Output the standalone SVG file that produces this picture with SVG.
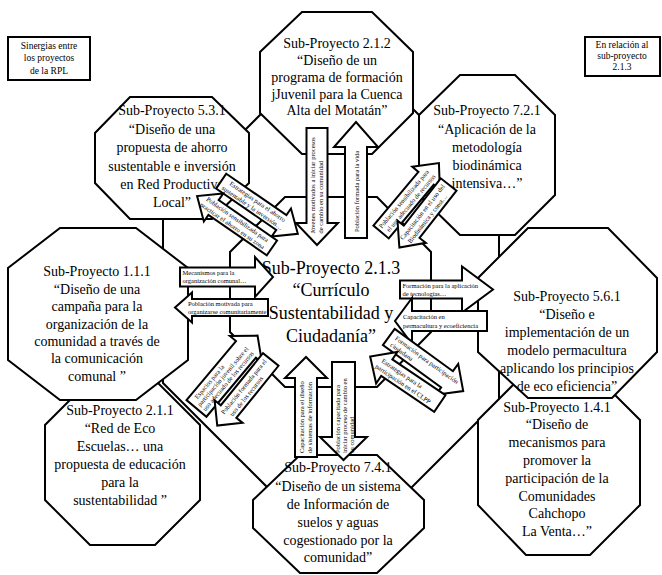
<svg xmlns="http://www.w3.org/2000/svg" width="662" height="575" viewBox="0 0 662 575">
<style>
.oct{fill:#fff;stroke:#000;stroke-width:2}
.box{fill:#fff;stroke:#000;stroke-width:2}
.arr{fill:#fff;stroke:#000;stroke-width:2;stroke-linejoin:miter}
.ring{fill:none;stroke:#000;stroke-width:2}
text{font-family:"Liberation Serif","Times New Roman",serif;fill:#000}
.t{font-size:14px;text-anchor:middle}
.c{font-size:18px;text-anchor:middle}
.n{font-size:9.5px;text-anchor:middle}
.s{font-size:6.5px}
</style>
<rect width="662" height="575" fill="#fff"/>
<g id="note-left"><rect class="box" x="8" y="37" width="82" height="43"/>
<text class="n" x="49" y="49">Sinergias entre</text><text class="n" x="49" y="61">los proyectos</text><text class="n" x="49" y="74">de la RPL</text></g>
<g id="note-right"><rect class="box" x="585" y="37" width="75" height="39"/>
<text class="n" x="622" y="48">En relación al</text><text class="n" x="622" y="59">sub-proyecto</text><text class="n" x="622" y="70">2.1.3</text></g>

<g id="connectors">
<polygon class="ring" points="163,212 295,80 384,80 499,195 499,400 384,515 295,515 163,383"/>
</g>

<g id="n213"><polygon class="oct" points="285,197 377,197 431,252 431,332 377,387 285,387 230,332 230,252"/>
<text class="c" x="331" y="274">Sub-Proyecto 2.1.3</text><text class="c" x="331" y="296">“Currículo</text><text class="c" x="331" y="319">Sustentabilidad  y</text><text class="c" x="331" y="342">Ciudadanía”</text></g>

<g id="n212"><polygon class="oct" points="302,12 372,12 413,52 413,113 372,154 302,154 260,113 260,52"/>
<text class="t" x="337" y="48">Sub-Proyecto 2.1.2</text><text class="t" x="337" y="65">“Diseño de  un</text><text class="t" x="337" y="82">programa de formación</text><text class="t" x="337" y="99">jJuvenil para la Cuenca</text><text class="t" x="337" y="115">Alta del Motatán”</text></g>

<g id="n531"><polygon class="oct" points="130,97 212,97 249,133 249,183 212,219 130,219 95,183 95,133"/>
<text class="t" x="172" y="115">Sub-Proyecto 5.3.1</text><text class="t" x="172" y="134">“Diseño de  una</text><text class="t" x="172" y="152">propuesta de ahorro</text><text class="t" x="172" y="171">sustentable e inversión</text><text class="t" x="172" y="189">en Red Productiva</text><text class="t" x="172" y="207">Local”</text></g>

<g id="n721"><polygon class="oct" points="460,75 515,75 555,115 555,195 515,235 460,235 419,195 419,115"/>
<text class="t" x="487" y="115">Sub-Proyecto 7.2.1</text><text class="t" x="487" y="134">“Aplicación de la</text><text class="t" x="487" y="152">metodología</text><text class="t" x="487" y="170">biodinámica</text><text class="t" x="487" y="188">intensiva…”</text></g>

<g id="n141"><polygon class="oct" points="526,372 592,372 640,420 640,505 590,555 526,555 478,505 478,420"/>
<text class="t" x="557" y="412">Sub-Proyecto 1.4.1</text><text class="t" x="557" y="429">“Diseño de</text><text class="t" x="557" y="447">mecanismos para</text><text class="t" x="557" y="465">promover la</text><text class="t" x="557" y="483">participación de la</text><text class="t" x="557" y="501">Comunidades</text><text class="t" x="557" y="518">Cahchopo</text><text class="t" x="557" y="536">La Venta…”</text></g>

<g id="n561"><polygon class="oct" points="528,228 608,228 657,278 657,352 612,398 528,398 478,352 478,278"/>
<text class="t" x="567" y="301">Sub-Proyecto 5.6.1</text><text class="t" x="567" y="319">“Diseño e</text><text class="t" x="567" y="337">implementación de un</text><text class="t" x="567" y="355">modelo permacultura</text><text class="t" x="567" y="373">aplicando los principios</text><text class="t" x="567" y="391">de eco eficiencia”</text></g>

<g id="n741"><polygon class="oct" points="300,455 377,455 424,500 424,528 377,573 300,573 253,528 253,500"/>
<text class="t" x="338" y="472">Sub-Proyecto 7.4.1</text><text class="t" x="338" y="491">“Diseño de un sistema</text><text class="t" x="338" y="509">de Información de</text><text class="t" x="338" y="527">suelos y aguas</text><text class="t" x="338" y="545">cogestionado por la</text><text class="t" x="338" y="562">comunidad”</text></g>

<g id="n211"><polygon class="oct" points="90,380 155,380 200,425 200,500 155,545 90,545 45,500 45,425"/>
<text class="t" x="120" y="415">Sub-Proyecto 2.1.1</text><text class="t" x="120" y="433">“Red de Eco</text><text class="t" x="120" y="451">Escuelas… una</text><text class="t" x="120" y="469">propuesta de educación</text><text class="t" x="120" y="487">para la</text><text class="t" x="120" y="505">sustentabilidad ”</text></g>

<g id="n111"><polygon class="oct" points="60,228 136,228 188,268 188,360 136,400 60,400 8,360 8,268"/>
<text class="t" x="97" y="276">Sub-Proyecto 1.1.1</text><text class="t" x="97" y="294">“Diseño de  una</text><text class="t" x="97" y="311">campaña para la</text><text class="t" x="97" y="329">organización de la</text><text class="t" x="97" y="346">comunidad a través de</text><text class="t" x="97" y="363">la comunicación</text><text class="t" x="97" y="381">comunal ”</text></g>

<g id="arrows">
<g transform="translate(317,186.5) rotate(-90)"><polygon class="arr" points="58.5,-10.5 -36.5,-10.5 -36.5,-21 -58.5,0 -36.5,21 -36.5,10.5 58.5,10.5"/>
<text class="s" x="-47" y="-2">Jóvenes motivados a iniciar procesos</text><text class="s" x="-47" y="6">de cambio en su comunidad</text></g>
<g transform="translate(356,180) rotate(-90)"><polygon class="arr" points="-58,-11 33,-11 33,-22 58,0 33,22 33,11 -58,11"/>
<text class="s" x="-52" y="2.5">Población formada para la vida</text></g>
<g transform="translate(259.5,207.5) rotate(34.5)"><polygon class="arr" points="-46.5,-9 26.5,-9 26.5,-17 46.5,0 26.5,17 26.5,9 -46.5,9"/>
<text class="s" x="-38" y="-1.5">Estrategias para el ahorro</text><text class="s" x="-42" y="6.5">sustentable y la inversión…</text></g>
<g transform="translate(234.5,222) rotate(34.7)"><polygon class="arr" points="45.5,-9 -25.5,-9 -25.5,-17 -45.5,0 -25.5,17 -25.5,9 45.5,9"/>
<text class="s" x="-36" y="-1.5">Población sensibilizada para</text><text class="s" x="-38" y="6.5">practicar el ahorro en su zona</text></g>
<g transform="translate(410,197.5) rotate(-50)"><polygon class="arr" points="-45,-10 25,-10 25,-18 45,0 25,18 25,10 -45,10"/>
<text class="s" x="-42" y="-1.5">Población sensibilizada para</text><text class="s" x="-40" y="6.5">el uso adecuado de recursos</text></g>
<g transform="translate(424,216) rotate(-52)"><polygon class="arr" points="40,-10 -20,-10 -20,-18 -40,0 -20,18 -20,10 40,10"/>
<text class="s" x="-32" y="-1.5">Capacitación en el uso del</text><text class="s" x="-30" y="6.5">Biodinámica y const…</text></g>
<g transform="translate(226.5,277)"><polygon class="arr" points="-46.5,-9.5 28.5,-9.5 28.5,-20 46.5,0 28.5,20 28.5,9.5 -46.5,9.5"/>
<text class="s" x="-44" y="-2">Mecanismos para la</text><text class="s" x="-44" y="6">organización comunal…</text></g>
<g transform="translate(221.5,307.5)"><polygon class="arr" points="46.5,-8.5 -29.5,-8.5 -29.5,-15 -46.5,0 -29.5,15 -29.5,8.5 46.5,8.5"/>
<text class="s" x="-33.5" y="-2">Población motivada para</text><text class="s" x="-33.5" y="6">organizarse comunitariamente</text></g>
<g transform="translate(446.5,289.5)"><polygon class="arr" points="-46.5,-9 15.5,-9 15.5,-23 46.5,0 15.5,23 15.5,9 -46.5,9"/>
<text class="s" x="-44" y="-2">Formación para la aplicación</text><text class="s" x="-44" y="6">de tecnologías…</text></g>
<g transform="translate(441,321)"><polygon class="arr" points="46,-10 -29,-10 -29,-23 -46,0 -29,23 -29,10 46,10"/>
<text class="s" x="-38" y="-2">Capacitación en</text><text class="s" x="-38" y="6.5">permacultura y ecoeficiencia</text></g>
<g transform="translate(426,364) rotate(36)"><polygon class="arr" points="-46,-10 26,-10 26,-19 46,0 26,19 26,10 -46,10"/>
<text class="s" x="-40" y="-1.5">Formación para participación</text><text class="s" x="-40" y="6.5">ciudadana</text></g>
<g transform="translate(405,380) rotate(34)"><polygon class="arr" points="42,-10 -22,-10 -22,-19 -42,0 -22,19 -22,10 42,10"/>
<text class="s" x="-30" y="-1.5">Estrategias para la</text><text class="s" x="-32" y="6.5">participación en el CLPP</text></g>
<g transform="translate(227,372) rotate(-50)"><polygon class="arr" points="-47.5,-13 29.5,-13 29.5,-21 47.5,0 29.5,21 29.5,13 -47.5,13"/>
<text class="s" x="-40" y="-5">Espacios para la</text><text class="s" x="-44" y="2">participación juvenil sobre el</text><text class="s" x="-44" y="9">uso adecuado de los recursos</text></g>
<g transform="translate(244,392.5) rotate(-51)"><polygon class="arr" points="42.5,-10 -24.5,-10 -24.5,-18 -42.5,0 -24.5,18 -24.5,10 42.5,10"/>
<text class="s" x="-30" y="-1.5">Población formada para el</text><text class="s" x="-26" y="6.5">uso de los recursos</text></g>
<g transform="translate(306,407) rotate(-90)"><polygon class="arr" points="-50,-11 29,-11 29,-21 50,0 29,21 29,11 -50,11"/>
<text class="s" x="-46" y="-2">Capacitación para el diseño</text><text class="s" x="-46" y="6">de sistemas de información</text></g>
<g transform="translate(343.5,411) rotate(-90)"><polygon class="arr" points="49,-11.5 -26,-11.5 -26,-23.5 -49,0 -26,23.5 -26,11.5 49,11.5"/>
<text class="s" x="-42" y="-4">Población capacitada para</text><text class="s" x="-42" y="3">iniciar proceso de cambio en</text><text class="s" x="-42" y="10">su comunidad</text></g>
</g>
</svg>
